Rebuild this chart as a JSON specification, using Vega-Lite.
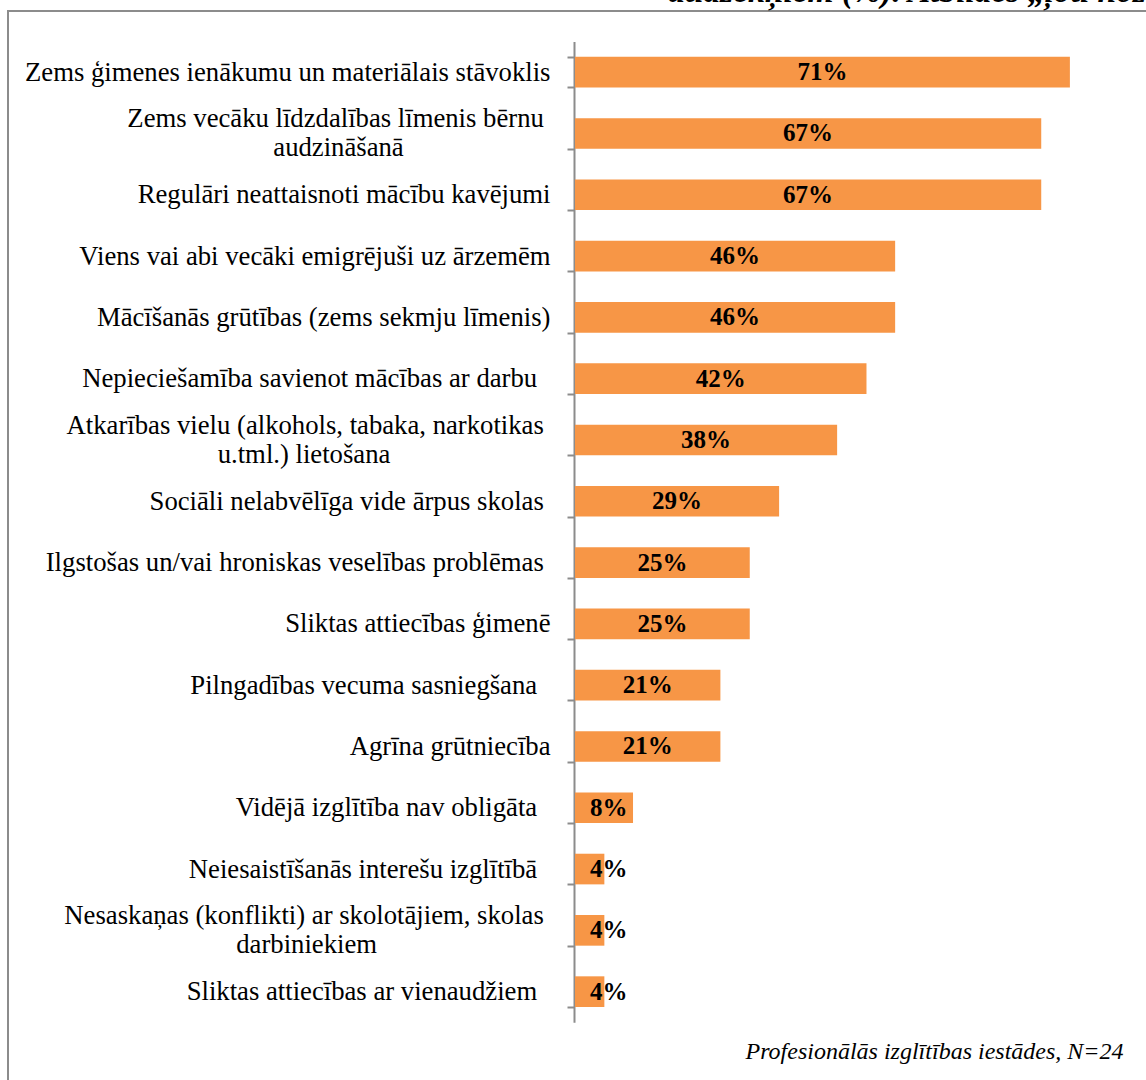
{
  "$schema": "https://vega.github.io/schema/vega-lite/v6.json",
  "autosize": {"type": "none"},
  "width": 1140,
  "height": 1071,
  "padding": {"left": 8, "top": 11, "right": -2, "bottom": -2},
  "background": "white",
  "config": {
    "font": "Liberation Serif",
    "view": {"stroke": "#8c8c8c", "strokeWidth": 2}
  },
  "title": {
    "text": "audzēkņiem (%). Atbildes „ļoti nozīmīgi”",
    "anchor": "start",
    "frame": "group",
    "dx": 660,
    "dy": 37,
    "offset": 0,
    "baseline": "alphabetic",
    "font": "Liberation Serif",
    "fontSize": 33.5,
    "fontWeight": "bold",
    "fontStyle": "italic",
    "color": "black"
  },
  "data": {
    "values": [
      {"category": "Zems ģimenes ienākumu un materiālais stāvoklis", "value": 0.708},
      {"category": "Zems vecāku līdzdalības līmenis bērnu audzināšanā", "value": 0.667},
      {"category": "Regulāri neattaisnoti mācību kavējumi", "value": 0.667},
      {"category": "Viens vai abi vecāki emigrējuši uz ārzemēm", "value": 0.458},
      {"category": "Mācīšanās grūtības (zems sekmju līmenis)", "value": 0.458},
      {"category": "Nepieciešamība savienot mācības ar darbu", "value": 0.417},
      {"category": "Atkarības vielu (alkohols, tabaka, narkotikas u.tml.) lietošana", "value": 0.375},
      {"category": "Sociāli nelabvēlīga vide ārpus skolas", "value": 0.292},
      {"category": "Ilgstošas un/vai hroniskas veselības problēmas", "value": 0.25},
      {"category": "Sliktas attiecības ģimenē", "value": 0.25},
      {"category": "Pilngadības vecuma sasniegšana", "value": 0.208},
      {"category": "Agrīna grūtniecība", "value": 0.208},
      {"category": "Vidējā izglītība nav obligāta", "value": 0.083},
      {"category": "Neiesaistīšanās interešu izglītībā", "value": 0.042},
      {"category": "Nesaskaņas (konflikti) ar skolotājiem, skolas darbiniekiem", "value": 0.042},
      {"category": "Sliktas attiecības ar vienaudžiem", "value": 0.042}
    ]
  },
  "encoding": {
    "y": {
      "field": "category",
      "type": "nominal",
      "sort": null,
      "scale": {"range": [30.5, 1011.3], "paddingInner": 0.5, "paddingOuter": 0.25},
      "axis": {
        "title": null,
        "orient": "left",
        "offset": -566,
        "domainColor": "#8c8c8c",
        "domainWidth": 2,
        "tickColor": "#8c8c8c",
        "tickWidth": 2,
        "tickSize": 7,
        "tickBand": "extent",
        "labelFont": "Liberation Serif",
        "labelFontSize": 26.7,
        "labelColor": "black",
        "labelPadding": 17,
        "labelLimit": 800,
        "labelLineHeight": 29,
        "labelOffset": {
          "condition": {
            "test": "indexof(['Zems vecāku līdzdalības līmenis bērnu audzināšanā', 'Atkarības vielu (alkohols, tabaka, narkotikas u.tml.) lietošana', 'Nesaskaņas (konflikti) ar skolotājiem, skolas darbiniekiem'], datum.value) >= 0",
            "value": -14.5
          },
          "value": 0
        },
        "labelExpr": "datum.value == 'Zems vecāku līdzdalības līmenis bērnu audzināšanā' ? ['Zems vecāku līdzdalības līmenis bērnu\u00a0\u200b', pad('audzināšanā', 33, '\u00a0') + '\u200b'] : datum.value == 'Atkarības vielu (alkohols, tabaka, narkotikas u.tml.) lietošana' ? ['Atkarības vielu (alkohols, tabaka, narkotikas\u00a0\u200b', pad('u.tml.) lietošana', 41, '\u00a0') + '\u200b'] : datum.value == 'Nesaskaņas (konflikti) ar skolotājiem, skolas darbiniekiem' ? ['Nesaskaņas (konflikti) ar skolotājiem, skolas\u00a0\u200b', pad('darbiniekiem', 38, '\u00a0') + '\u200b'] : indexof(['Sociāli nelabvēlīga vide ārpus skolas', 'Ilgstošas un/vai hroniskas veselības problēmas'], datum.value) >= 0 ? datum.value + '\u00a0\u200b' : indexof(['Nepieciešamība savienot mācības ar darbu', 'Pilngadības vecuma sasniegšana', 'Vidējā izglītība nav obligāta', 'Neiesaistīšanās interešu izglītībā', 'Sliktas attiecības ar vienaudžiem'], datum.value) >= 0 ? datum.value + '\u00a0\u00a0\u200b' : datum.value"
      }
    }
  },
  "layer": [
    {
      "mark": {"type": "bar", "color": "#F79646"},
      "encoding": {
        "x": {
          "field": "value",
          "type": "quantitative",
          "scale": {"domain": [0, 1], "range": [567, 1266], "nice": false, "zero": false},
          "axis": {
            "domain": false,
            "ticks": false,
            "labels": false,
            "grid": false,
            "title": "Profesionālās izglītības iestādes, N=24",
            "titleFont": "Liberation Serif",
            "titleFontSize": 24,
            "titleFontStyle": "italic",
            "titleFontWeight": "normal",
            "titleColor": "black",
            "titleAlign": "right",
            "titleAnchor": "end",
            "titleBaseline": "alphabetic",
            "titleX": 1115,
            "titleY": -24
          }
        }
      }
    },
    {
      "transform": [{"filter": "datum.value >= 0.1"}],
      "mark": {"type": "text", "font": "Liberation Serif", "fontSize": 25, "fontWeight": "bold", "color": "black", "align": "center", "baseline": "middle"},
      "encoding": {
        "x": {
          "field": "value",
          "type": "quantitative",
          "scale": {"domain": [0, 1], "range": [567, 916.5], "nice": false, "zero": false},
          "axis": null
        },
        "text": {"field": "value", "type": "quantitative", "format": ".0%"}
      }
    },
    {
      "transform": [{"filter": "datum.value < 0.1"}],
      "mark": {"type": "text", "font": "Liberation Serif", "fontSize": 25, "fontWeight": "bold", "color": "black", "align": "left", "baseline": "middle", "dx": 15},
      "encoding": {
        "x": {
          "datum": 0,
          "type": "quantitative",
          "scale": {"domain": [0, 1], "range": [567, 1266], "nice": false, "zero": false},
          "axis": null
        },
        "text": {"field": "value", "type": "quantitative", "format": ".0%"}
      }
    }
  ],
  "resolve": {"scale": {"x": "independent"}}
}
